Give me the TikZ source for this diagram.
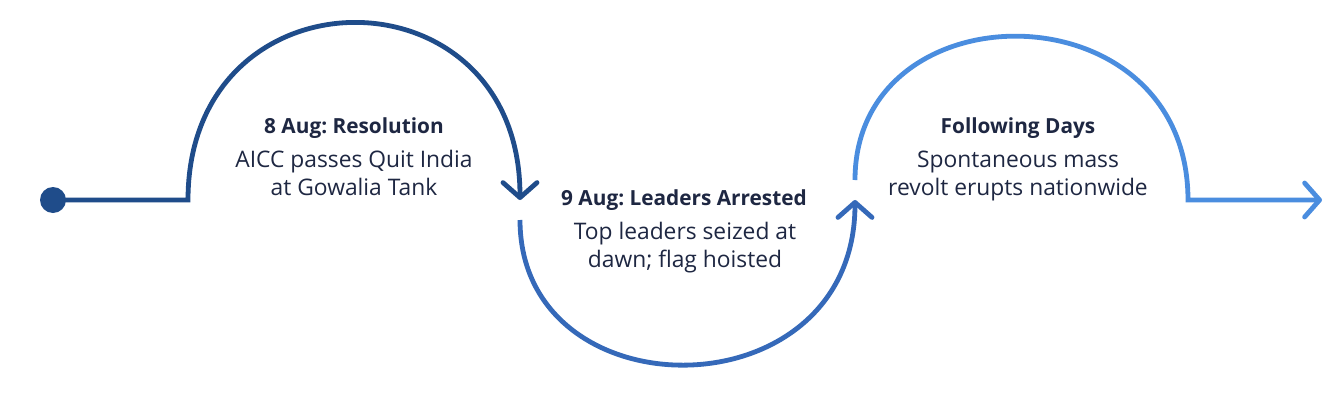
\documentclass[tikz,border=0pt]{standalone}
\usepackage{fontspec}
\setmainfont{Open Sans}
\usetikzlibrary{arrows.meta}
\definecolor{cA}{HTML}{1F4C8A}
\definecolor{cB}{HTML}{3569B9}
\definecolor{cC}{HTML}{4A8DDF}
\definecolor{txt}{HTML}{1E2742}
\frenchspacing
\begin{document}
\begin{tikzpicture}[x=1pt,y=-1pt,
  flow/.style={line width=4.8pt},
  tip/.style={-{Straight Barb[length=15pt,width=34pt,round]}},
  ttl/.style={anchor=base,inner sep=0pt,text=txt,font=\fontsize{20.8}{24}\selectfont\bfseries},
  bdy/.style={anchor=base,inner sep=0pt,text=txt,font=\fontsize{22.8}{28}\selectfont}]
\useasboundingbox[fill=white] (0,0) rectangle (1342,402);
\coordinate (k1) at (188,200);
\coordinate (k2) at (520,200);
\coordinate (k3) at (855,200);
\coordinate (k4) at (1188,200);
\coordinate (k5) at (1322,200);
\node[circle,fill=cA,minimum size=26pt,inner sep=0pt] (dot) at (53,200) {};
\draw[flow,cA,tip] (dot.center) -- (k1) .. controls +(0,-236) and +(0,-236) .. (k2);
\draw[flow,cB,tip,shorten <=20pt] (k2) .. controls +(0,216) and +(0,216) .. (k3);
\draw[flow,cC,tip,shorten <=20pt] (k3) .. controls +(0,-215) and +(0,-215) .. (k4) -- (k5);
\node[ttl] (t1) at (354,133) {8 Aug: Resolution};
\node[bdy] (b1a) at (354,167) {AICC passes Quit India};
\node[bdy] (b1b) at (354,195) {at Gowalia Tank};
\node[ttl] (t2) at (684,205) {9 Aug: Leaders Arrested};
\node[bdy] (b2a) at (685,239) {Top leaders seized at};
\node[bdy] (b2b) at (685,267) {dawn; flag hoisted};
\node[ttl] (t3) at (1018,133) {Following Days};
\node[bdy] (b3a) at (1018,167) {Spontaneous mass};
\node[bdy] (b3b) at (1018,195) {revolt erupts nationwide};
\end{tikzpicture}
\end{document}
